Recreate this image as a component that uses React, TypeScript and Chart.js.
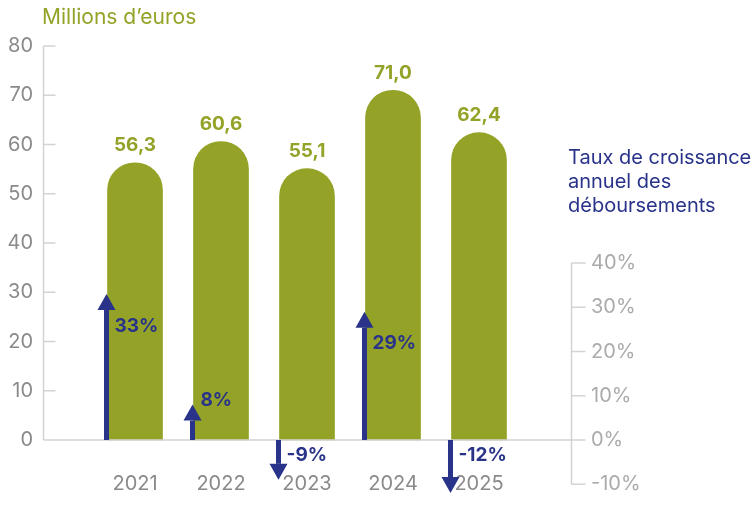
import React, { useEffect, useRef } from "react";
import { Chart, registerables } from "chart.js";

Chart.register(...registerables);

const years = ["2021", "2022", "2023", "2024", "2025"];
const disbursements = [56.3, 60.6, 55.1, 71.0, 62.4];
const growthRates = [33, 8, -9, 29, -12];
const leftTicks = [0, 10, 20, 30, 40, 50, 60, 70, 80];
const rightTicks = [-10, 0, 10, 20, 30, 40];
const unitTitle = "Millions d’euros";
const rateTitle = ["Taux de croissance", "annuel des", "déboursements"];

const GREEN = "#94a327";
const BLUE = "#283389";
const GRAY = "#8a8a8a";
const LIGHTGRAY = "#ababab";
const AXIS = "#d3d3d3";
const FONT = "Inter, 'Noto Sans', sans-serif";

const fmtNum = (v: number) => v.toFixed(1).replace(".", ",");

const overlayPlugin = {
  id: "overlay",
  afterDatasetsDraw(chart: any) {
    const ctx = chart.ctx as CanvasRenderingContext2D;
    const x = chart.scales.x;
    const y = chart.scales.y;
    const y1 = chart.scales.y1;
    const area = chart.chartArea;
    const meta = chart.getDatasetMeta(0);
    ctx.save();

    // left axis line + inward ticks
    ctx.strokeStyle = AXIS;
    ctx.lineWidth = 1.5;
    const lx = area.left + 0.5;
    ctx.beginPath();
    ctx.moveTo(lx, y.getPixelForValue(leftTicks[leftTicks.length - 1]));
    ctx.lineTo(lx, y.getPixelForValue(0));
    leftTicks.forEach((t) => {
      const py = y.getPixelForValue(t);
      ctx.moveTo(lx, py);
      ctx.lineTo(lx + 12, py);
    });
    // baseline
    const by = y.getPixelForValue(0);
    ctx.moveTo(lx, by);
    ctx.lineTo(area.right + 14, by);
    // right axis
    const rx = area.right + 0.5;
    ctx.moveTo(rx, y1.getPixelForValue(rightTicks[rightTicks.length - 1]));
    ctx.lineTo(rx, y1.getPixelForValue(rightTicks[0]));
    rightTicks.forEach((t) => {
      const py = y1.getPixelForValue(t);
      ctx.moveTo(rx, py);
      ctx.lineTo(rx + 14, py);
    });
    ctx.stroke();

    // category labels
    ctx.fillStyle = GRAY;
    ctx.font = `20px ${FONT}`;
    ctx.textAlign = "center";
    ctx.textBaseline = "middle";
    years.forEach((yr, i) => {
      ctx.fillText(yr, x.getPixelForValue(i), by + 44);
    });

    // value labels above bars
    ctx.fillStyle = GREEN;
    ctx.font = `bold 19px ${FONT}`;
    meta.data.forEach((bar: any, i: number) => {
      ctx.fillText(fmtNum(disbursements[i]), bar.x, bar.y - 17);
    });

    // growth arrows
    const y0 = y1.getPixelForValue(0);
    meta.data.forEach((bar: any, i: number) => {
      const r = growthRates[i];
      const ax = bar.x - bar.width / 2 - 1;
      const tip = y1.getPixelForValue(r);
      const dir = r >= 0 ? -1 : 1;
      const headLen = 16;
      const neck = tip - dir * headLen;
      ctx.fillStyle = BLUE;
      ctx.fillRect(ax - 2.5, Math.min(y0, neck), 5, Math.abs(neck - y0));
      ctx.beginPath();
      ctx.moveTo(ax, tip);
      ctx.lineTo(ax - 9, neck);
      ctx.lineTo(ax + 9, neck);
      ctx.closePath();
      ctx.fill();
      ctx.font = `bold 19px ${FONT}`;
      ctx.textAlign = "left";
      ctx.textBaseline = "middle";
      const ly = r >= 0 ? Math.min(tip + 32, y0 - 40) : y0 + 15;
      ctx.fillText(`${r}%`, ax + 8, ly);
    });

    // titles
    ctx.fillStyle = GREEN;
    ctx.font = `21px ${FONT}`;
    ctx.textAlign = "left";
    ctx.textBaseline = "middle";
    ctx.fillText(unitTitle, area.left - 1, 18);

    ctx.fillStyle = BLUE;
    ctx.font = `20px ${FONT}`;
    rateTitle.forEach((line, k) => {
      ctx.fillText(line, area.right - 3, 158 + k * 24);
    });
    ctx.restore();
  },
};

export default function App() {
  const ref = useRef<HTMLCanvasElement>(null);
  useEffect(() => {
    document.body.style.margin = "0";
    const chart = new Chart(ref.current!, {
      type: "bar",
      data: {
        datasets: [
          {
            data: disbursements.map((v, i) => ({ x: i, y: v })),
            backgroundColor: GREEN,
            barThickness: 55,
            borderRadius: { topLeft: 28, topRight: 28, bottomLeft: 0, bottomRight: 0 },
            borderSkipped: "bottom",
            yAxisID: "y",
          },
        ],
      },
      plugins: [overlayPlugin],
      options: {
        animation: false,
        responsive: false,
        maintainAspectRatio: false,
        layout: { padding: { top: 46, bottom: 12, left: 0, right: 0 } },
        plugins: { legend: { display: false }, tooltip: { enabled: false }, title: { display: false } },
        scales: {
          x: {
            type: "linear",
            display: false,
            offset: false,
            grid: { offset: false },
            min: -1.07,
            max: 5.07,
          },
          y: {
            type: "linear",
            position: "left",
            min: -55 / 4.925,
            max: 80,
            grid: { display: false, drawTicks: false },
            border: { display: false },
            afterBuildTicks: (s: any) => {
              s.ticks = leftTicks.map((v) => ({ value: v }));
            },
            afterFit: (s: any) => {
              s.width = 43;
              s.paddingTop = 0;
              s.paddingBottom = 0;
            },
            ticks: { padding: 10, color: GRAY, font: { family: FONT, size: 20 } },
          },
          y1: {
            type: "linear",
            position: "right",
            min: -55 / 4.425,
            max: 40 + 217 / 4.425,
            grid: { display: false, drawTicks: false },
            border: { display: false },
            afterBuildTicks: (s: any) => {
              s.ticks = rightTicks.map((v) => ({ value: v }));
            },
            afterFit: (s: any) => {
              s.width = 183;
              s.paddingTop = 0;
              s.paddingBottom = 0;
            },
            ticks: {
              padding: 20,
              color: LIGHTGRAY,
              font: { family: FONT, size: 20 },
              callback: (v: any) => `${v}%`,
            },
          },
        },
      },
    });
    return () => chart.destroy();
  }, []);
  return (
    <div style={{ position: "absolute", left: 0, top: 0, width: 754, height: 507 }}>
      <canvas ref={ref} width={754} height={507} style={{ width: 754, height: 507 }} />
    </div>
  );
}
